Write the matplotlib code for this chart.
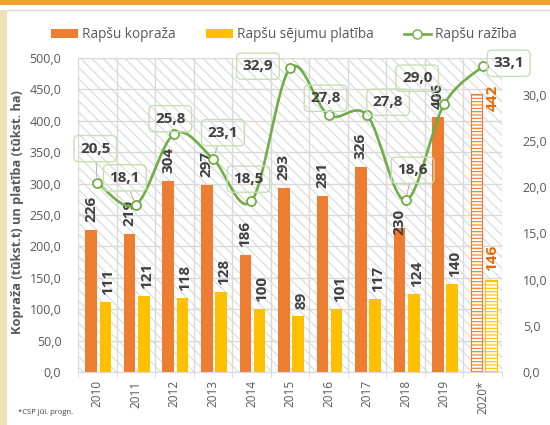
import matplotlib.pyplot as plt
import numpy as np
from matplotlib.patches import Rectangle, Patch
from matplotlib.lines import Line2D
from matplotlib.path import Path
from matplotlib.patches import PathPatch

plt.rcParams['font.family'] = ['Open Sans', 'DejaVu Sans']
plt.rcParams['hatch.linewidth'] = 0.8

# dati
years = ['2010', '2011', '2012', '2013', '2014', '2015', '2016', '2017', '2018', '2019', '2020*']
kopraza = [226, 219, 304, 297, 186, 293, 281, 326, 230, 406, 442]
platiba = [111, 121, 118, 128, 100, 89, 101, 117, 124, 140, 146]
raziba = [20.5, 18.1, 25.8, 23.1, 18.5, 32.9, 27.8, 27.8, 18.6, 29.0, 33.1]

ORANGE = '#ED7D31'
YELLOW = '#FFC000'
GREEN = '#70AD47'
GRAY = '#595959'
LABEL = '#404040'

def comma(v):
    return f'{v:.1f}'.replace('.', ',')

fig = plt.figure(figsize=(5.5, 4.25), dpi=100)

# rāmja dekorācija
fig.patches.append(Rectangle((0, 1 - 5 / 425), 1, 5 / 425, transform=fig.transFigure,
                             facecolor='#F0A22E', edgecolor='none'))
fig.patches.append(Rectangle((0, 0), 7 / 550, 1 - 10 / 425, transform=fig.transFigure,
                             facecolor='#EFE0B9', edgecolor='none'))
fig.lines.append(Line2D([7 / 550, 1], [1 - 10 / 425] * 2, transform=fig.transFigure,
                        color='#D9D9D9', lw=1))

ax = fig.add_axes([78 / 550, 1 - 372 / 425, 424 / 550, 314 / 425])
ax.set_xlim(-0.5, 10.5)
ax.set_ylim(0, 500)
ax.add_patch(Rectangle((0, 0), 1, 1, transform=ax.transAxes, facecolor='white',
                       edgecolor='#D9D9D9', lw=0, hatch='\\\\\\', zorder=0.1))
ax.set_axisbelow(True)

x = np.arange(len(years))
w = 0.30
for i in x:
    if i < 10:
        ax.bar(i - 0.16, kopraza[i], w, color=ORANGE, zorder=2)
        ax.bar(i + 0.21, platiba[i], w, color=YELLOW, zorder=2)
    else:
        ax.bar(i - 0.16, kopraza[i], w, facecolor='white', edgecolor=ORANGE,
               hatch='-----', lw=0.8, zorder=2)
        ax.bar(i + 0.21, platiba[i], w, facecolor='white', edgecolor=YELLOW,
               hatch='-----', lw=0.8, zorder=2)

lab = dict(rotation=90, fontsize=11, fontweight='bold', ha='center',
           textcoords='offset pixels')
for i in x:
    if i == 10:
        ax.annotate(str(kopraza[i]), (i - 0.16, kopraza[i]), xytext=(16, -3),
                    va='center', color='#E36C09', **lab)
        ax.annotate(str(platiba[i]), (i + 0.21, platiba[i]), xytext=(1, 9),
                    va='bottom', color='#E36C09', **lab)
        continue
    dy = -7 if i == 8 else 8
    ax.annotate(str(kopraza[i]), (i - 0.16, kopraza[i]), xytext=(0, dy),
                va='bottom', color=LABEL, **lab)
    ax.annotate(str(platiba[i]), (i + 0.21, platiba[i]), xytext=(3, 7),
                va='bottom', color=LABEL, **lab)

ax.set_yticks(np.arange(0, 501, 50))
ax.set_yticklabels([comma(v) for v in np.arange(0, 501, 50)])
ax.set_xticks(x)
ax.set_xticklabels(years, rotation=90)
ax.set_xticks(np.arange(-0.5, 11, 1), minor=True)
ax.grid(True, which='minor', axis='x', color='#D9D9D9', lw=1)
ax.grid(True, which='major', axis='y', color='#D9D9D9', lw=1)
ax.tick_params(axis='x', which='major', length=0, pad=6, labelsize=8.5, labelcolor=GRAY)
ax.tick_params(axis='x', which='minor', length=4, color='#D9D9D9')
ax.tick_params(axis='y', length=0, pad=12, labelsize=9, labelcolor=GRAY)
for s in ['top', 'right', 'left']:
    ax.spines[s].set_visible(False)
ax.spines['bottom'].set_color('#D9D9D9')

ax2 = ax.twinx()
ax2.set_ylim(0, 34)
ax2.set_yticks(np.arange(0, 31, 5))
ax2.set_yticklabels([comma(v) for v in np.arange(0, 31, 5)])
ax2.tick_params(axis='y', length=0, pad=15, labelsize=9, labelcolor=GRAY)
for s in ax2.spines.values():
    s.set_visible(False)

# gluda līnija (Bezjē līknes caur punktiem)
pts = np.column_stack([x, raziba]).astype(float)
ext = np.vstack([pts[0], pts, pts[-1]])
verts = [tuple(pts[0])]
codes = [Path.MOVETO]
for k in range(len(pts) - 1):
    p0, p1, p2, p3 = ext[k], ext[k + 1], ext[k + 2], ext[k + 3]
    c1 = p1 + (p2 - p0) / 6
    c2 = p2 - (p3 - p1) / 6
    verts += [tuple(c1), tuple(c2), tuple(p2)]
    codes += [Path.CURVE4] * 3
ax2.add_patch(PathPatch(Path(verts, codes), facecolor='none', edgecolor=GREEN,
                        lw=1.9, zorder=3, capstyle='round'))
ax2.plot(x, raziba, linestyle='none', marker='o', markersize=6.5,
         markerfacecolor='white', markeredgecolor=GREEN, markeredgewidth=1.3, zorder=4)

offsets = [(-2, 34), (-11, 27), (-4, 15), (10, 26), (-3, 22), (-32, 2),
           (-3, 17), (21, 13), (7, 30), (-27, 26), (26, 3)]
leaders = {0, 1, 3, 8, 9}
for i in x:
    kw = {}
    if i in leaders:
        kw['arrowprops'] = dict(arrowstyle='-', color='#A6A6A6', lw=0.6,
                                shrinkA=0, shrinkB=4)
    ax2.annotate(comma(raziba[i]), (i, raziba[i]), xytext=offsets[i],
                 textcoords='offset pixels', ha='center', va='center',
                 fontsize=11, fontweight='bold', color=LABEL, zorder=5,
                 bbox=dict(boxstyle='round,pad=0.4,rounding_size=0.3',
                           facecolor='none', edgecolor='#C5E0B4', lw=1),
                 annotation_clip=False, **kw)

handles = [Patch(facecolor=ORANGE), Patch(facecolor=YELLOW),
           Line2D([], [], color=GREEN, lw=1.9, marker='o', markersize=6.5,
                  markerfacecolor='white', markeredgecolor=GREEN)]
fig.legend(handles, ['Rapšu kopraža', 'Rapšu sējumu platība', 'Rapšu ražība'],
           loc='center', bbox_to_anchor=(0.516, 1 - 35 / 425), ncol=3, frameon=False,
           fontsize=9.8, labelcolor=GRAY, handlelength=2.0, handleheight=0.65,
           handletextpad=0.3, columnspacing=2.2)

fig.text(18 / 550, 1 - 212 / 425, 'Kopraža (tūkst.t) un platība (tūkst. ha)',
         rotation=90, ha='center', va='center', fontsize=9.2, fontweight='bold',
         color=GRAY)
fig.text(18 / 550, 1 - 413 / 425, '*CSP jūl. progn.', fontsize=5.5, va='center',
         color='#404040')

fig.savefig('out.png', dpi=100)
